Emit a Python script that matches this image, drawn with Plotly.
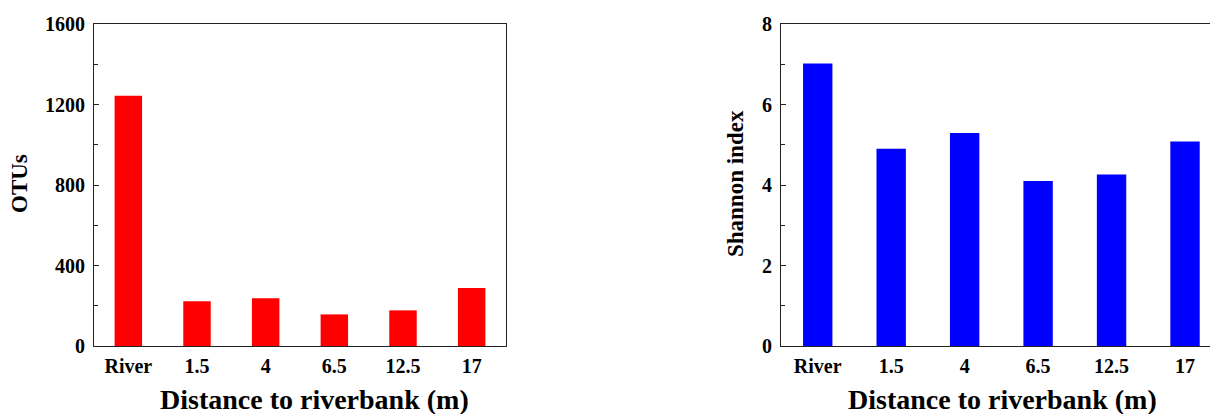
import plotly.graph_objects as go

categories = ["River", "1.5", "4", "6.5", "12.5", "17"]
otus = [1244, 222, 237, 157, 177, 288]
shannon = [7.02, 4.90, 5.29, 4.10, 4.26, 5.08]

W, H = 1210, 414
MT, MB = 24, 68
PH = H - MT - MB
FONT = "Liberation Serif, Times New Roman, serif"
tick_font = dict(family=FONT, size=20, color="black", weight=700)
LINE = "#222222"


def py(pix):
    """paper y from pixel row (top-left origin)"""
    return (H - MB - pix) / PH


fig = go.Figure()
fig.add_trace(go.Bar(x=categories, y=otus, marker=dict(color="#FF0000", line=dict(width=0)),
                     width=0.4, xaxis="x", yaxis="y", showlegend=False))
fig.add_trace(go.Bar(x=categories, y=shannon, marker=dict(color="#0000FF", line=dict(width=0)),
                     width=0.4, xaxis="x2", yaxis="y2", showlegend=False))

common_x = dict(type="category", showline=True, linecolor=LINE, linewidth=1, mirror=True,
                ticks="", ticklen=0, tickfont=tick_font, showgrid=False, zeroline=False,
                ticklabelstandoff=2)
common_y = dict(showline=True, linecolor=LINE, linewidth=1, mirror=True, ticks="inside",
                ticklen=5, tickcolor=LINE, tickwidth=1, tickfont=tick_font, showgrid=False,
                zeroline=False, ticklabelstandoff=4)

x1d = [94 / W, 506 / W]
x2d = [781 / W, 1.0]

fig.update_layout(
    width=W, height=H,
    margin=dict(l=0, r=0, t=MT, b=MB),
    plot_bgcolor="white", paper_bgcolor="white",
    xaxis=dict(domain=x1d, range=[-0.5, 5.5], anchor="y", **common_x),
    yaxis=dict(domain=[0, 1], range=[0, 1600], dtick=400, anchor="x",
               minor=dict(dtick=200, ticks="inside", ticklen=4, tickcolor=LINE), **common_y),
    xaxis2=dict(domain=x2d, range=[-0.5, 5.34], anchor="y2", **common_x),
    yaxis2=dict(domain=[0, 1], range=[0, 8], dtick=2, anchor="x2",
                minor=dict(dtick=1, ticks="inside", ticklen=4, tickcolor=LINE), **common_y),
)

title_font = dict(family=FONT, size=28, color="black", weight=700)
ytitle_font = dict(family=FONT, size=23, color="black", weight=700)
fig.add_annotation(text="Distance to riverbank (m)", xref="paper", yref="paper",
                   x=314 / W, y=py(399), showarrow=False, font=title_font,
                   xanchor="center", yanchor="middle")
fig.add_annotation(text="Distance to riverbank (m)", xref="paper", yref="paper",
                   x=1003 / W, y=py(399), showarrow=False, font=title_font,
                   xanchor="center", yanchor="middle")
fig.add_annotation(text="OTUs", xref="paper", yref="paper", x=19 / W, y=py(184),
                   textangle=-90, showarrow=False, font=ytitle_font,
                   xanchor="center", yanchor="middle")
fig.add_annotation(text="Shannon index", xref="paper", yref="paper", x=735 / W, y=py(184),
                   textangle=-90, showarrow=False, font=ytitle_font,
                   xanchor="center", yanchor="middle")

fig.write_html("out.html")
